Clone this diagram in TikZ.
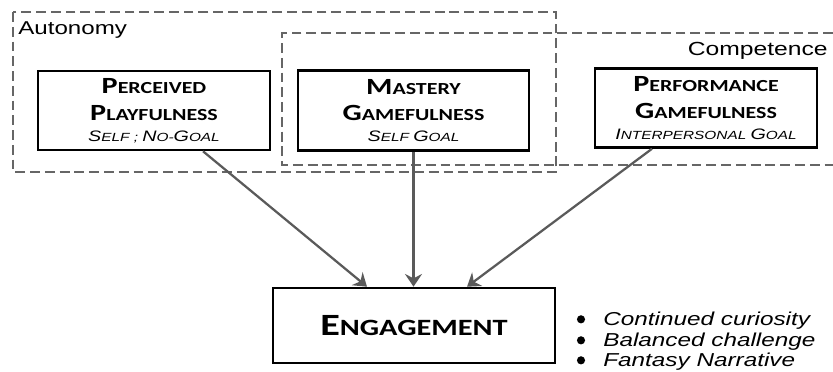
\documentclass[tikz,border=0pt]{standalone}
\usepackage{fontspec}
\setmainfont[FakeStretch=1.3]{Liberation Sans}
\newfontfamily\titlefont[FakeStretch=1.3]{Carlito}
\usepackage{xcolor}
\usepackage{tikz}
\usetikzlibrary{positioning,arrows.meta,calc}

\definecolor{linegray}{HTML}{5A5A5A}
\definecolor{dashgray}{HTML}{666666}

% fake small caps: big first letter, smaller rest
\newcommand{\tsc}[2]{{\fontsize{16.5}{17}\selectfont #1}{\fontsize{12}{17}\selectfont #2}}
\newcommand{\esc}[2]{{\fontsize{22}{24}\selectfont #1}{\fontsize{16.6}{24}\selectfont #2}}
\newcommand{\ssc}[1]{{\fontsize{10.8}{12}\selectfont #1}}
\newcommand{\goalfont}{\normalfont\itshape\fontsize{8.4}{12}\selectfont}

\tikzset{
    factor/.style={draw, line width=1.8pt, align=center, inner sep=2pt,
        font=\titlefont\bfseries\fontsize{16.5}{17}\selectfont},
    need/.style={draw=dashgray, line width=1pt, dash pattern=on 7pt off 3.5pt},
    feed/.style={draw=linegray, line width=1.6pt, -{Stealth[length=9pt,width=12pt,inset=3pt]}},
    bulletline/.style={anchor=west, font=\itshape\fontsize{13.3}{15}\selectfont, inner sep=0pt}
}

\begin{document}
\begin{tikzpicture}[x=0.025cm, y=-0.025cm]
    \useasboundingbox (0,0) rectangle (833,372);

    % the two need areas
    \draw[need] (13,12) rectangle (556,172);
    \draw[need] (833,33) -| (282,165) -- (833,165);
    \node[anchor=base west, inner sep=0pt, font=\fontsize{13.2}{15}\selectfont] (aut) at (18,35) {Autonomy};
    \node[anchor=base east, inner sep=0pt, font=\fontsize{13.5}{15}\selectfont] (comp) at (828,56) {Competence};

    % factors
    \node[factor, minimum width=5.8cm, minimum height=1.975cm] (pp) at (154,110.5)
        {\tsc{P}{ERCEIVED}\\[2pt] \tsc{P}{LAYFULNESS}\\[-2pt]
         {\goalfont\ssc{S}ELF ; \ssc{N}O-\ssc{G}OAL}};
    \node[factor, minimum width=5.775cm, minimum height=2cm] (mg) at (413.5,110.5)
        {\tsc{M}{ASTERY}\\[2pt] \tsc{G}{AMEFULNESS}\\[-2pt]
         {\goalfont\ssc{S}ELF \ssc{G}OAL}};
    \node[factor, minimum width=5.55cm, minimum height=1.975cm] (pg) at (706,108)
        {\tsc{P}{ERFORMANCE}\\[2pt] \tsc{G}{AMEFULNESS}\\[-2pt]
         {\goalfont\ssc{I}NTERPERSONAL \ssc{G}OAL}};

    % outcome
    \node[factor, minimum width=7.05cm, minimum height=1.875cm] (eng) at (414,325.5)
        {\esc{E}{NGAGEMENT}};

    \draw[feed] ([xshift=1.225cm]pp.south) -- ([xshift=-1.175cm]eng.north);
    \draw[feed] (mg.south) -- (mg.south |- eng.north);
    \draw[feed] ([xshift=-1.35cm]pg.south) -- ([xshift=1.325cm]eng.north);

    \foreach \i/\y/\txt in {1/321/Continued curiosity, 2/342/Balanced challenge, 3/362/Fantasy Narrative}{
        \node[bulletline] (b\i) at (603,\y) {\txt};
        \fill ([xshift=-0.55cm, yshift=1.2pt]b\i.west) circle (2.9pt);
    }
\end{tikzpicture}
\end{document}
